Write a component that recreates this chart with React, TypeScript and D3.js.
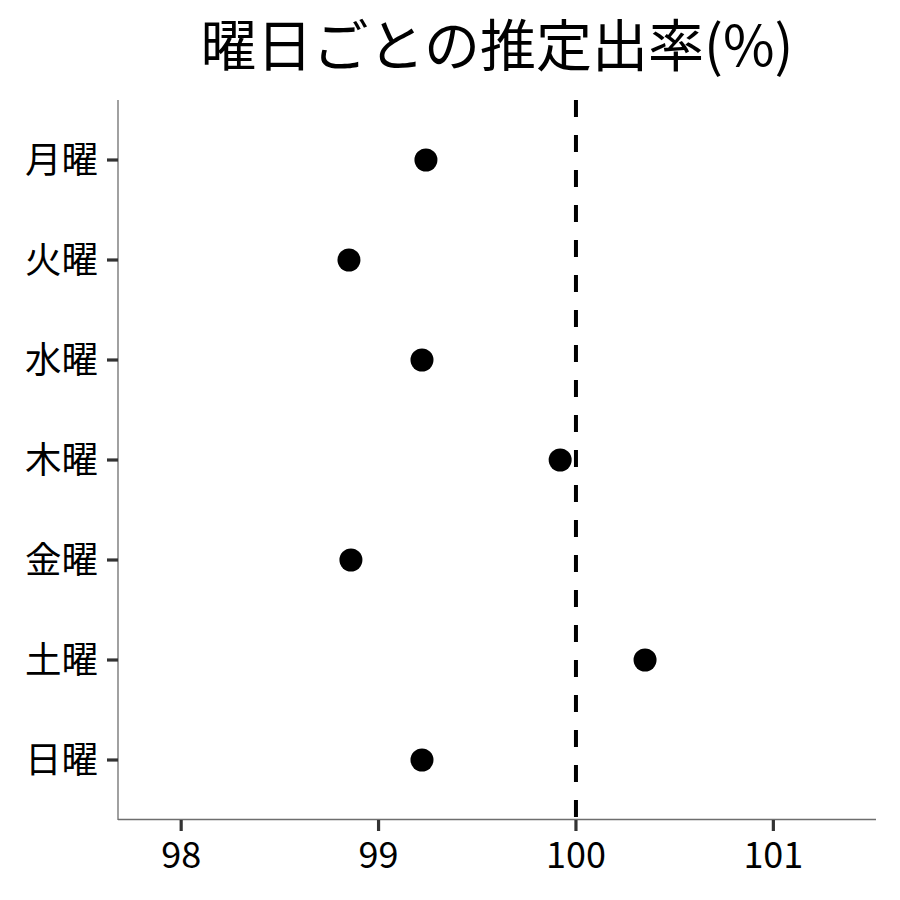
import React from "react";
import * as d3 from "d3";

const days = ["月曜", "火曜", "水曜", "木曜", "金曜", "土曜", "日曜"];
const rates = [99.24, 98.85, 99.22, 99.92, 98.86, 100.35, 99.22];
const xTicks = [98, 99, 100, 101];
const refValue = 100;
const title = "曜日ごとの推定出率(%)";

const W = 900;
const H = 900;
const FONT = "'Noto Sans CJK JP', 'Noto Sans', sans-serif";

export default function App() {
  const left = 118;
  const right = 876;
  const top = 100;
  const bottom = 820;
  const x = d3.scaleLinear().domain([97.68, 101.52]).range([left, right]);
  const y = d3.scalePoint<string>().domain(days).range([top, bottom]).padding(0.6);

  return (
    <svg
      width={W}
      height={H}
      style={{ position: "absolute", left: 0, top: 0, background: "#fff" }}
      fontFamily={FONT}
    >
      <rect x={0} y={0} width={W} height={H} fill="#fff" />
      <text x={(left + right) / 2} y={66} textAnchor="middle" fontSize={56} fill="#000">
        {title}
      </text>
      {/* axes lines */}
      <line x1={left} x2={left} y1={top} y2={bottom} stroke="#6e6e6e" strokeWidth={1.3} />
      <line x1={left} x2={right} y1={bottom - 0.5} y2={bottom - 0.5} stroke="#6e6e6e" strokeWidth={1.3} />
      {/* y ticks & labels */}
      {days.map((d) => (
        <g key={d}>
          <line x1={left - 11} x2={left} y1={y(d)} y2={y(d)} stroke="#333" strokeWidth={3.2} />
          <text x={left - 20} y={(y(d) as number) + 13} textAnchor="end" fontSize={36.5} fill="#000">
            {d}
          </text>
        </g>
      ))}
      {/* x ticks & labels */}
      {xTicks.map((t) => (
        <g key={t}>
          <line x1={x(t)} x2={x(t)} y1={bottom} y2={bottom + 11} stroke="#333" strokeWidth={3.2} />
          <text x={x(t)} y={868} textAnchor="middle" fontSize={36} fill="#000">
            {t}
          </text>
        </g>
      ))}
      {/* reference line */}
      <line
        x1={x(refValue)}
        x2={x(refValue)}
        y1={top}
        y2={bottom}
        stroke="#000"
        strokeWidth={4}
        strokeDasharray="17 18"
      />
      {/* points */}
      {days.map((d, i) => (
        <circle key={d} cx={x(rates[i])} cy={y(d)} r={11.5} fill="#000" />
      ))}
    </svg>
  );
}
